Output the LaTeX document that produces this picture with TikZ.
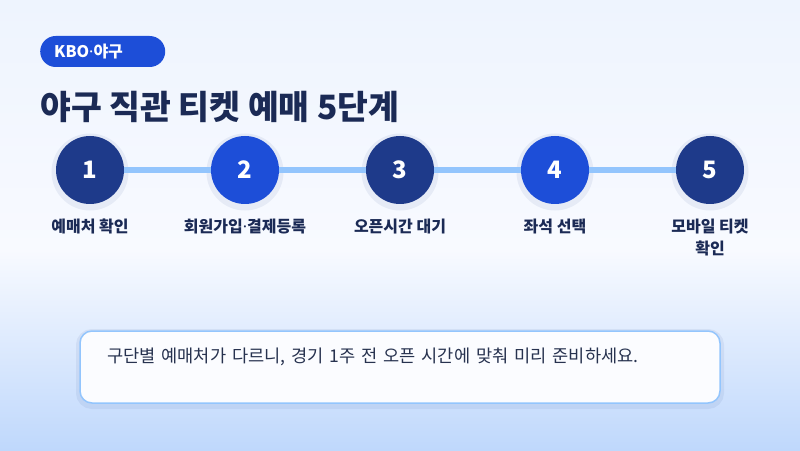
\documentclass[tikz,border=0pt]{standalone}
\usepackage{fontspec}
\setmainfont{Noto Sans CJK KR}
\newfontfamily\latinfont{Noto Sans}
\usetikzlibrary{positioning}
\definecolor{navy}{HTML}{1E3A8A}
\definecolor{royal}{HTML}{1D4ED8}
\definecolor{ink}{HTML}{1B2A55}
\definecolor{slate}{HTML}{27324F}
\definecolor{linkblue}{HTML}{93C5FD}
\definecolor{bgtop}{HTML}{EEF4FE}
\definecolor{bgmid}{HTML}{F8FAFF}
\definecolor{bgbot}{HTML}{BFD8FC}
\newcommand{\px}[2]{\fontsize{#1}{#2}\selectfont}
\newcommand{\mdot}{{\latinfont ·}}

\begin{document}
\begin{tikzpicture}[x=1pt, y=1pt,
  halo/.style={preaction={draw=navy, draw opacity=0.07, line width=#1, transform canvas={yshift=-2pt}}},
  stepdot/.style={circle, fill=#1, minimum size=68pt, inner sep=0pt, outer sep=0pt,
    text=white, font=\px{24}{24}\bfseries, halo=9pt},
  steplabel/.style={font=\px{16}{22}\bfseries, text=ink, align=center, inner sep=0pt},
  link/.style={line width=6pt, draw=linkblue},
  pill/.style={rounded corners=15.5pt, fill=royal, text=white, font=\px{16}{16}\bfseries,
    minimum height=31pt, text width=97pt, align=left, inner xsep=14pt, inner ysep=0pt},
  notebox/.style={draw=linkblue, line width=1.5pt, fill=bgmid!60!white, rounded corners=12pt,
    text width=586pt, align=left, inner xsep=27pt, inner ysep=17pt,
    text height=14pt, text depth=24pt, font=\px{17.6}{20}, text=slate, halo=8pt}]
\useasboundingbox (0,0) rectangle (800,450);
% page background
\shade[top color=bgtop, bottom color=bgmid] (0,450) rectangle (800,200);
\shade[top color=bgmid, bottom color=bgbot] (0,200) rectangle (800,0);
% heading
\node[pill, anchor=west] (tag) at (40,398.5) {KBO\mdot 야구};
\node[anchor=base west, inner sep=0pt, font=\px{33.5}{33.5}\bfseries, text=ink] (title) at (40,330)
  {야구 직관 티켓 예매 5단계};
% the five steps
\node[stepdot=navy] (s1) at (90,280) {1};
\foreach \i/\c in {2/royal,3/navy,4/royal,5/navy} {
  \pgfmathtruncatemacro{\p}{\i-1}
  \node[stepdot=\c, right=87pt of s\p] (s\i) {\i};
}
\foreach \i in {1,...,4} {
  \pgfmathtruncatemacro{\n}{\i+1}
  \draw[link] (s\i) -- (s\n);
}
\foreach \i/\t in {1/예매처 확인, 2/회원가입\mdot 결제등록, 3/오픈시간 대기, 4/좌석 선택, 5/{모바일 티켓\\확인}} {
  \node[steplabel, below=15pt of s\i, anchor=north] (l\i) {\t};
}
% the tip at the bottom
\node[notebox] (tip) at (400,83) {구단별 예매처가 다르니, 경기 1주 전 오픈 시간에 맞춰 미리 준비하세요.};
\end{tikzpicture}
\end{document}
